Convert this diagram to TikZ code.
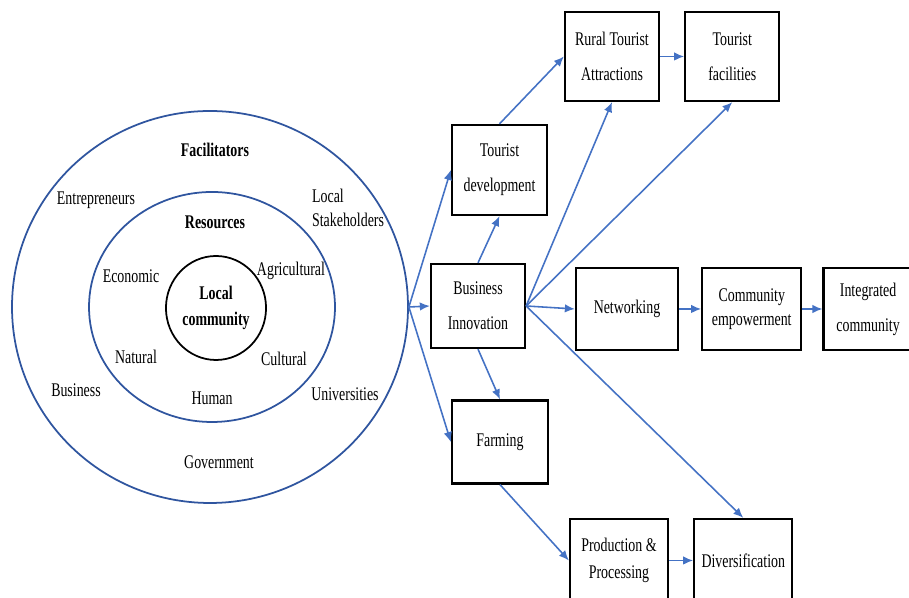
\documentclass[tikz,border=0pt]{standalone}
\usepackage{fontspec}
\setmainfont{Liberation Serif}[FakeStretch=0.72]
\usepackage{xcolor}
\usepackage{tikz}
\usetikzlibrary{
    shapes.geometric,
    arrows.meta,
    positioning
}
\definecolor{ringblue}{HTML}{2F559F}
\definecolor{flowblue}{HTML}{4472C4}
\tikzset{
    % Ring round the community
    ring/.style={
        ellipse,
        draw=#1,
        line width=1pt,
        inner sep=0pt
    },
    ring/.default=ringblue,
    % Text inside the rings
    ringlabel/.style={
        font=\fontsize{11}{14}\selectfont,
        align=center,
        inner sep=1pt
    },
    % Ring heading
    ringtitle/.style={
        ringlabel,
        font=\fontsize{11}{15}\selectfont\bfseries
    },
    % Stage box
    stagebox/.style={
        rectangle,
        draw=black,
        line width=1.3pt,
        fill=white,
        font=\fontsize{11}{20}\selectfont,
        minimum width=#1,
        minimum height=1.66cm,
        align=center,
        inner sep=2pt
    },
    stagebox/.default=1.9cm,
    % Arrow style
    flowarrow/.style={
        -{Latex[length=2mm,width=1.7mm]},
        line width=0.9pt,
        color=flowblue
    }
}

\begin{document}
\begin{tikzpicture}

    \useasboundingbox (0,0) rectangle (18.18,11.96);

    % Rings
    \node[ring, minimum width=7.92cm, minimum height=7.84cm] (outer) at (4.20,5.82) {};
    \node[ring, minimum width=4.92cm, minimum height=4.60cm] (middle) at (4.24,5.82) {};
    \node[ring=black, ringtitle, minimum width=1.92cm, minimum height=2.08cm] (core) at (4.32,5.80) {Local\\community};

    % Facilitators
    \node[ringtitle] (facil) at (4.30,8.96) {Facilitators};
    \node[ringlabel] (entre) at (1.92,7.96) {Entrepreneurs};
    \node[ringlabel, anchor=west, align=left] (stake) at (6.20,7.80) {Local\\Stakeholders};
    \node[ringlabel] (busin) at (1.52,4.16) {Business};
    \node[ringlabel] (univ) at (6.90,4.08) {Universities};
    \node[ringlabel] (govt) at (4.38,2.72) {Government};

    % Resources
    \node[ringtitle] (resrc) at (4.30,7.52) {Resources};
    \node[ringlabel] (econ) at (2.62,6.44) {Economic};
    \node[ringlabel] (agri) at (5.82,6.54) {Agricultural};
    \node[ringlabel] (natur) at (2.72,4.82) {Natural};
    \node[ringlabel] (cultr) at (5.68,4.78) {Cultural};
    \node[ringlabel] (human) at (4.24,4.00) {Human};

    % Stages
    \node[stagebox=1.88cm, minimum height=1.68cm] (binn) at (9.56,5.84) {Business\\Innovation};
    \node[stagebox, minimum height=1.80cm] (tdev) at (9.99,8.56) {Tourist\\development};
    \node[stagebox=1.88cm, minimum height=1.78cm] (rta) at (12.24,10.83) {Rural Tourist\\Attractions};
    \node[stagebox=1.88cm, minimum height=1.78cm, right=0.48cm of rta] (tfac) {Tourist\\facilities};
    \node[stagebox=2.04cm, minimum height=1.64cm] (netw) at (12.54,5.78) {Networking};
    \node[stagebox=1.98cm, minimum height=1.64cm, right=0.44cm of netw, font=\fontsize{11}{14}\selectfont] (cemp) {Community\\empowerment};
    \node[stagebox=1.78cm, minimum height=1.64cm, right=0.40cm of cemp] (icom) {Integrated\\community};
    \node[stagebox=1.92cm] (farm) at (10.00,3.12) {Farming};
    \node[stagebox=1.96cm, font=\fontsize{11}{15}\selectfont] (prod) at (12.38,0.75) {Production \&\\Processing};
    \node[stagebox=1.96cm, right=0.48cm of prod] (div) {Diversification};

    % Arrows out of the rings
    \draw[flowarrow] (outer.east) -- (tdev.west);
    \draw[flowarrow] (outer.east) -- (binn.west);
    \draw[flowarrow] (outer.east) -- (farm.west);

    % Arrows out of business innovation
    \draw[flowarrow] (binn.north) -- (tdev.south);
    \draw[flowarrow] (binn.east) -- (rta.south);
    \draw[flowarrow] (binn.east) -- (tfac.south);
    \draw[flowarrow] (binn.east) -- (netw.west);
    \draw[flowarrow] (binn.east) -- (div.north);
    \draw[flowarrow] (binn.south) -- (farm.north);

    % Tourism branch
    \draw[flowarrow] (tdev.north) -- (rta.west);
    \draw[flowarrow] (rta.east) -- (tfac.west);

    % Community branch
    \draw[flowarrow] (netw) -- (cemp);
    \draw[flowarrow] (cemp) -- (icom);

    % Farming branch
    \draw[flowarrow] (farm.south) -- (prod.west);
    \draw[flowarrow] (prod) -- (div);

\end{tikzpicture}
\end{document}
